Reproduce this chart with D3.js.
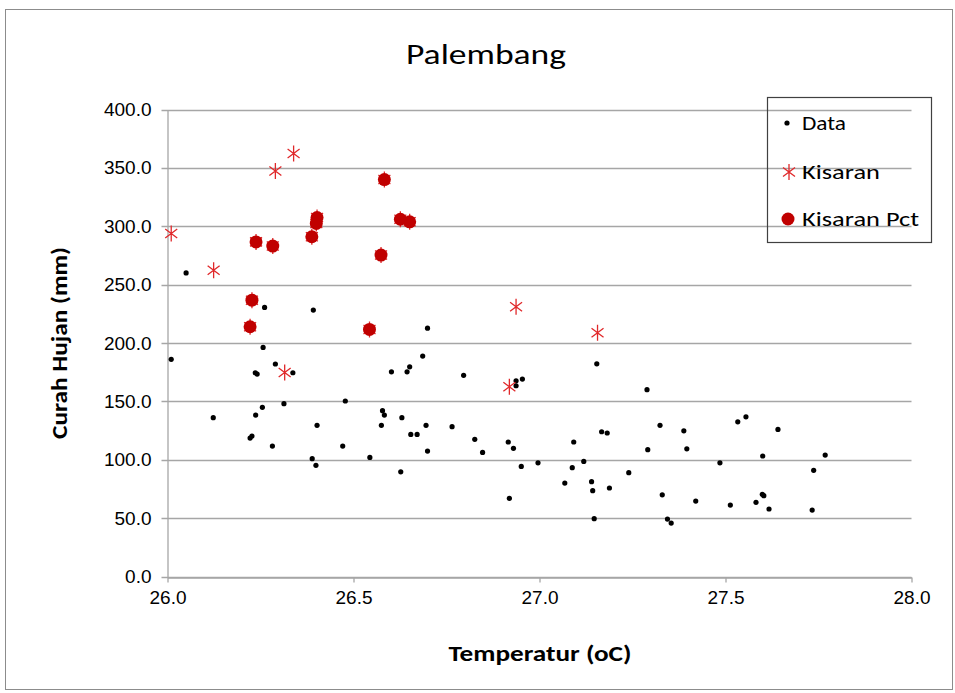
<!DOCTYPE html>
<html><head><meta charset="utf-8">
<script src="https://cdn.jsdelivr.net/npm/d3@7"></script>
<style>
body{margin:0;background:#fff;}
svg{display:block;font-family:Calibri,Carlito,Lato,"Open Sans",sans-serif;}
</style></head>
<body><div id="chart"></div>
<script>
const title = "Palembang";
const xLabel = "Temperatur (oC)";
const yLabel = "Curah Hujan (mm)";
const xTicks = [26.0, 26.5, 27.0, 27.5, 28.0];
const yTicks = [0, 50, 100, 150, 200, 250, 300, 350, 400];
const legendLabels = ["Data", "Kisaran", "Kisaran Pct"];

// Data series: [temperature, rainfall]
const dataTemp = [26.01,26.05,26.123,26.222,26.227,26.236,26.241,26.237,26.255,26.257,26.261,26.282,26.29,26.313,26.337,26.389,26.392,26.399,26.402,26.471,26.478,26.544,26.575,26.578,26.583,26.602,26.627,26.63,26.644,26.651,26.654,26.671,26.686,26.695,26.699,26.699,26.765,26.796,26.826,26.847,26.916,26.919,26.93,26.937,26.937,26.951,26.954,26.996,27.068,27.088,27.092,27.119,27.14,27.143,27.147,27.154,27.167,27.182,27.188,27.24,27.289,27.291,27.324,27.33,27.344,27.354,27.388,27.396,27.42,27.485,27.513,27.533,27.555,27.582,27.599,27.6,27.603,27.617,27.641,27.733,27.737,27.768];
const dataRain = [186,260,136,118.6,120.3,174.5,173.4,138.3,144.9,196.2,230.5,111.7,182,148,174.5,100.9,228.2,95.2,129.5,111.7,150.3,102,129.5,142,138.3,175.3,89.7,136,175.3,179.6,121.7,121.7,188.8,129.5,107.4,212.7,128.3,172.3,117.5,106.3,115.2,67,109.8,167.6,163.4,94.3,169.1,97.4,80,93.2,115.2,98.6,81.2,73.5,49.5,182.2,124,122.9,75.8,88.9,160,108.6,129.5,70,49.2,45.8,124.8,109.4,64.6,97.4,61.2,132.5,136.8,63.5,70.4,103.2,69.2,57.8,126,56.9,90.9,104];

// Kisaran series
const kisTemp = [26.01,26.124,26.29,26.339,26.315,26.919,26.937,27.156,26.238,26.283,26.388,26.402,26.40,26.583,26.574,26.626,26.651,26.227,26.222,26.543];
const kisRain = [293.8,262.4,347.4,362.3,174.8,162.5,231,208.7,286.6,283,291,307.5,302.4,340,275.3,306,303.8,236.7,213.9,211.6];

// Kisaran Pct series
const pctTemp = [26.238,26.283,26.388,26.402,26.40,26.583,26.574,26.626,26.651,26.227,26.222,26.543];
const pctRain = [286.6,283,291,307.5,302.4,340,275.3,306,303.8,236.7,213.9,211.6];

const W = 955, H = 693;
const svg = d3.select("#chart").append("svg").attr("width", W).attr("height", H);

// chart border
svg.append("rect").attr("x",5.5).attr("y",9.5).attr("width",947).attr("height",680)
  .attr("fill","#fff").attr("stroke","#8c8c8c").attr("stroke-width",1);

const x = d3.scaleLinear().domain([26,28]).range([167.5, 911.5]);
const y = d3.scaleLinear().domain([0,400]).range([576.5, 109.5]);

// gridlines
svg.append("g").selectAll("line").data(yTicks).join("line")
  .attr("x1", x(26)-6).attr("x2", x(28)).attr("y1", d=>Math.round(y(d))+0.5).attr("y2", d=>Math.round(y(d))+0.5)
  .attr("stroke","#a6a6a6").attr("stroke-width",1.3);

// y axis
const yAxis = svg.append("g").attr("transform",`translate(${x(26)},0)`)
  .call(d3.axisLeft(y).tickValues(yTicks).tickFormat(d3.format(".1f")).tickSize(0).tickPadding(16));
yAxis.select(".domain").attr("stroke","#a6a6a6").attr("stroke-width",1.3);
yAxis.selectAll("text").attr("font-size",19).attr("fill","#000").attr("font-family","inherit");

// x axis
const xAxis = svg.append("g").attr("transform",`translate(0,${Math.round(y(0))+0.5})`)
  .call(d3.axisBottom(x).tickValues(xTicks).tickFormat(d3.format(".1f")).tickSizeInner(5).tickSizeOuter(0).tickPadding(8));
xAxis.select(".domain").attr("stroke","#a6a6a6").attr("stroke-width",1.3);
xAxis.selectAll(".tick line").attr("stroke","#a6a6a6").attr("stroke-width",1.3);
xAxis.selectAll("text").attr("font-size",19).attr("fill","#000").attr("font-family","inherit");

// title
svg.append("text").attr("x",486).attr("y",64).attr("text-anchor","middle")
  .attr("font-size",29).attr("fill","#000")
  .attr("textLength",160).attr("lengthAdjust","spacingAndGlyphs").text(title);
// axis titles
svg.append("text").attr("x",540).attr("y",661).attr("text-anchor","middle")
  .attr("font-size",23).attr("font-weight","bold").attr("fill","#000")
  .attr("textLength",183).attr("lengthAdjust","spacingAndGlyphs").text(xLabel);
svg.append("text").attr("transform","translate(67,343) rotate(-90)").attr("text-anchor","middle")
  .attr("font-size",23).attr("font-weight","bold").attr("fill","#000")
  .attr("textLength",192).attr("lengthAdjust","spacingAndGlyphs").text(yLabel);

function starPath(cx, cy, r){
  const d = r*0.75;
  return `M${cx},${cy-r}L${cx},${cy+r}M${cx-d},${cy-d*0.75}L${cx+d},${cy+d*0.75}M${cx-d},${cy+d*0.75}L${cx+d},${cy-d*0.75}`;
}

// data points
const dataPts = dataTemp.map((t,i)=>[t,dataRain[i]]);
svg.append("g").selectAll("circle").data(dataPts).join("circle")
  .attr("cx",d=>x(d[0])).attr("cy",d=>y(d[1])).attr("r",2.6).attr("fill","#000");

// kisaran stars
const kisPts = kisTemp.map((t,i)=>[t,kisRain[i]]);
svg.append("g").selectAll("path").data(kisPts).join("path")
  .attr("d",d=>starPath(x(d[0]),y(d[1]),8)).attr("stroke","#e0282a").attr("stroke-width",1.3).attr("fill","none");

// pct circles
const pctPts = pctTemp.map((t,i)=>[t,pctRain[i]]);
svg.append("g").selectAll("circle").data(pctPts).join("circle")
  .attr("cx",d=>x(d[0])).attr("cy",d=>y(d[1])).attr("r",6.5).attr("fill","#c00000");

// legend
const lg = svg.append("g");
lg.append("rect").attr("x",767.5).attr("y",97.5).attr("width",164).attr("height",145)
  .attr("fill","none").attr("stroke","#404040").attr("stroke-width",1.2);
const ly = [123, 172, 219];
const lw = [44, 78, 117];
lg.append("circle").attr("cx",787).attr("cy",ly[0]).attr("r",2.6).attr("fill","#000");
lg.append("path").attr("d",starPath(789,ly[1],8)).attr("stroke","#e0282a").attr("stroke-width",1.3).attr("fill","none");
lg.append("circle").attr("cx",788).attr("cy",ly[2]).attr("r",6.5).attr("fill","#c00000");
lg.selectAll("text").data(legendLabels).join("text")
  .attr("x",802).attr("y",(d,i)=>ly[i]+7).attr("font-size",21).attr("fill","#000")
  .attr("textLength",(d,i)=>lw[i]).attr("lengthAdjust","spacingAndGlyphs").text(d=>d);
</script></body></html>
